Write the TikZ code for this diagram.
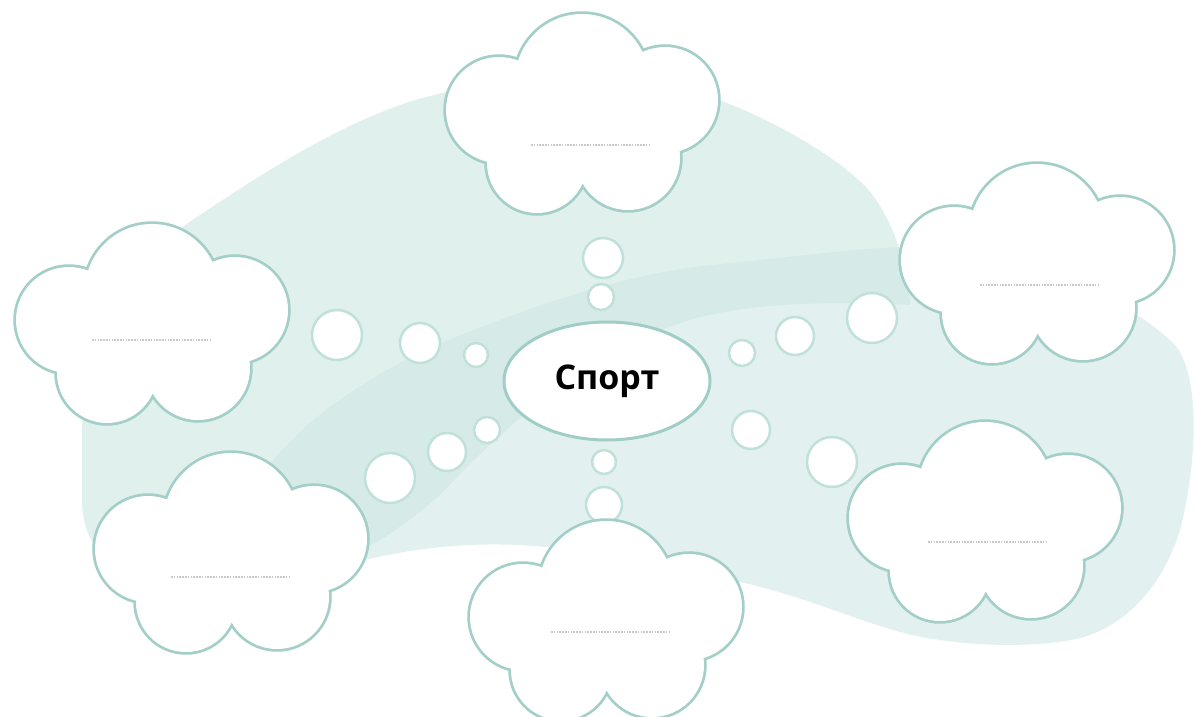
\documentclass[tikz,border=0pt]{standalone}
\usepackage{fontspec}
\usetikzlibrary{shapes.geometric}
\newfontfamily\sportfont{Open Sans}
\definecolor{bgA}{HTML}{E0F0ED}
\definecolor{bgB}{HTML}{E2F1EF}
\definecolor{bandc}{HTML}{D6EBE7}
\definecolor{cloudline}{HTML}{A3CFC8}
\definecolor{bubbleline}{HTML}{C0E0DA}
\definecolor{ellline}{HTML}{A0CEC6}
\definecolor{phc}{HTML}{C8C8C8}
\tikzset{
  bubble/.style={circle, draw=bubbleline, line width=2.5pt, fill=white, inner sep=0pt},
  cloudedge/.style={draw=cloudline, line width=5.5pt},
  cloudfill/.style={fill=white},
  phline/.style={draw=phc, line width=2.4pt, dash pattern=on 1.6pt off 1.2pt},
  centre/.style={ellipse, draw=ellline, line width=3pt, fill=white,
    minimum width=206pt, minimum height=118pt, inner sep=0pt,
    font=\sportfont\bfseries\fontsize{34}{40}\selectfont}
}
\newcommand{\drawcloud}[5]{%
  \coordinate (#1) at (#2,#3);
  \begin{scope}[shift={(#2,#3)}]
    \path[cloudedge] (0,-32) circle (67pt) (-83,-3) circle (53pt) (83,-13) circle (53pt)
      (-45,50) circle (50pt) (46,45) circle (52pt);
    \path[cloudfill] (0,-32) circle (67pt) (-83,-3) circle (53pt) (83,-13) circle (53pt)
      (-45,50) circle (50pt) (46,45) circle (52pt) (0,5) circle (50pt);
    \draw[phline] (#5-60,#4) -- (#5+60,#4);
  \end{scope}}
\begin{document}
\begin{tikzpicture}[x=1pt,y=-1pt]
\useasboundingbox (0,0) rectangle (1195,717);
\clip (0,0) rectangle (1195,717);
\fill[white] (0,0) rectangle (1195,717);
% background blobs
\fill[bgA] (82,500) -- (82,430) .. controls (84,330) and (130,260) .. (200,215)
  .. controls (260,175) and (330,130) .. (400,105)
  .. controls (450,88) and (520,76) .. (590,74)
  .. controls (640,75) and (690,88) .. (719,100)
  .. controls (760,115) and (830,150) .. (867,188)
  .. controls (885,210) and (897,235) .. (905,270)
  .. controls (908,285) and (910,295) .. (910,305)
  .. controls (820,300) and (740,305) .. (690,320)
  .. controls (590,350) and (500,430) .. (440,495)
  .. controls (400,530) and (360,555) .. (320,570)
  .. controls (240,585) and (150,575) .. (100,552)
  .. controls (88,540) and (82,520) .. (82,500) -- cycle;
\fill[bgB] (235,530) .. controls (260,440) and (370,370) .. (466,333)
  .. controls (560,296) and (640,272) .. (712,265)
  .. controls (800,256) and (860,248) .. (905,247)
  .. controls (1020,245) and (1130,300) .. (1175,345)
  .. controls (1200,375) and (1198,460) .. (1180,530)
  .. controls (1165,580) and (1130,625) .. (1080,638)
  .. controls (1040,648) and (960,648) .. (900,632)
  .. controls (850,618) and (800,595) .. (740,582)
  .. controls (680,568) and (600,550) .. (520,545)
  .. controls (450,542) and (400,552) .. (364,560)
  .. controls (300,575) and (240,575) .. (235,530) -- cycle;
\begin{scope}
\clip (82,500) -- (82,430) .. controls (84,330) and (130,260) .. (200,215)
  .. controls (260,175) and (330,130) .. (400,105)
  .. controls (450,88) and (520,76) .. (590,74)
  .. controls (640,75) and (690,88) .. (719,100)
  .. controls (760,115) and (830,150) .. (867,188)
  .. controls (885,210) and (897,235) .. (905,270)
  .. controls (908,285) and (910,295) .. (910,305)
  .. controls (820,300) and (740,305) .. (690,320)
  .. controls (590,350) and (500,430) .. (440,495)
  .. controls (400,530) and (360,555) .. (320,570)
  .. controls (240,585) and (150,575) .. (100,552)
  .. controls (88,540) and (82,520) .. (82,500) -- cycle;
\fill[bandc] (235,530) .. controls (260,440) and (370,370) .. (466,333)
  .. controls (560,296) and (640,272) .. (712,265)
  .. controls (800,256) and (860,248) .. (905,247)
  .. controls (1020,245) and (1130,300) .. (1175,345)
  .. controls (1200,375) and (1198,460) .. (1180,530)
  .. controls (1165,580) and (1130,625) .. (1080,638)
  .. controls (1040,648) and (960,648) .. (900,632)
  .. controls (850,618) and (800,595) .. (740,582)
  .. controls (680,568) and (600,550) .. (520,545)
  .. controls (450,542) and (400,552) .. (364,560)
  .. controls (300,575) and (240,575) .. (235,530) -- cycle;
\end{scope}
% bubbles
\foreach \n/\x/\y/\r in {b1/337/335/25, b2/420/343/20, b3/476/355/12,
  b4/390/478/25, b5/447/452/19, b6/487/430/13,
  b7/603/258/20, b8/601/297/13,
  b9/604/462/12, b10/604/505/18,
  b11/742/353/13, b12/795/336/19, b13/872/318/25,
  b14/751/430/19, b15/832/462/25}
  \node[bubble, minimum size=2*\r pt] (\n) at (\x,\y) {};
% centre
\node[centre] (sport) at (607,381) {Спорт};
% clouds
\drawcloud{cTop}{582}{113}{32}{9}
\drawcloud{cLeft}{152}{323}{17}{0}
\drawcloud{cTopRight}{1037}{263}{22}{3}
\drawcloud{cBotRight}{985}{521}{21}{3}
\drawcloud{cBotLeft}{231}{552}{25}{0}
\drawcloud{cBottom}{606}{620}{12}{5}
\end{tikzpicture}
\end{document}
